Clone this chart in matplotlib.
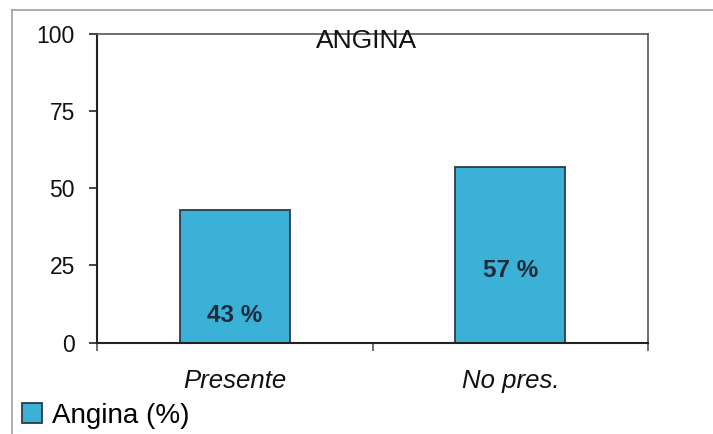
import matplotlib
matplotlib.use("Agg")
import matplotlib.pyplot as plt
from matplotlib.lines import Line2D

# Data
categories = ["Presente", "No pres."]
values = [43, 57]
series_name = "Angina (%)"
chart_title = "ANGINA"
y_ticks = [0, 25, 50, 75, 100]

# Vertical placement of the value labels inside the bars (data units)
label_y = [8.6, 23.2]

plt.rcParams["font.family"] = ["Liberation Sans", "DejaVu Sans"]

W, H = 713, 434
fig = plt.figure(figsize=(W / 100, H / 100), dpi=100)
fig.patch.set_facecolor("white")

ax = fig.add_axes([97 / W, 1 - 342.5 / H, (648 - 97) / W, (342.5 - 34) / H])

bar_color = "#3cb1d8"
edge_color = "#2b3b45"
x = list(range(len(categories)))
bars = ax.bar(x, values, width=0.4, color=bar_color, edgecolor=edge_color,
              linewidth=1.3, label=series_name, zorder=2)

for xi, v, ly in zip(x, values, label_y):
    ax.text(xi, ly, f"{v} %", ha="center", va="center", fontsize=17.5,
            fontweight="bold", color="#1c2c3a", zorder=3)

ax.set_xlim(-0.5, len(categories) - 0.5)
ax.set_ylim(0, 100)
ax.set_yticks(y_ticks)
ax.set_yticklabels([str(t) for t in y_ticks])
ax.tick_params(axis="y", direction="out", length=6, width=1.2, pad=10,
               labelsize=16.5, color="#222222", labelcolor="#111111")

ax.set_xticks(x)
ax.set_xticklabels(categories, fontstyle="italic")
ax.tick_params(axis="x", length=0, pad=19, labelsize=18.5, labelcolor="#111111")
# small ticks between categories
ax.set_xticks([-0.5, 0.5, 1.5], minor=True)
ax.tick_params(axis="x", which="minor", direction="out", length=6, width=1.2,
               color="#555555")

for side in ("left", "bottom"):
    ax.spines[side].set_color("#222222")
    ax.spines[side].set_linewidth(1.5)
for side in ("top", "right"):
    ax.spines[side].set_color("#555555")
    ax.spines[side].set_linewidth(1.2)

ax.text(0.49, 1.016, chart_title, transform=ax.transAxes, ha="center",
        va="top", fontsize=19, color="#111111")

# Legend at the lower left of the figure
fig.legend(handles=[bars], labels=[series_name], loc="center left",
           bbox_to_anchor=(22 / W, 1 - 416 / H), frameon=False, fontsize=20,
           handlelength=0.72, handleheight=0.72, handletextpad=0.35,
           borderpad=0, borderaxespad=0)

# Outer frame (left and top edges)
fig.add_artist(Line2D([12 / W, 12 / W], [0, 1 - 10 / H], transform=fig.transFigure,
                      color="#a0a0a0", linewidth=1.2))
fig.add_artist(Line2D([12 / W, 1], [1 - 10 / H, 1 - 10 / H], transform=fig.transFigure,
                      color="#a0a0a0", linewidth=1.2))

fig.savefig("out.png", dpi=100)
